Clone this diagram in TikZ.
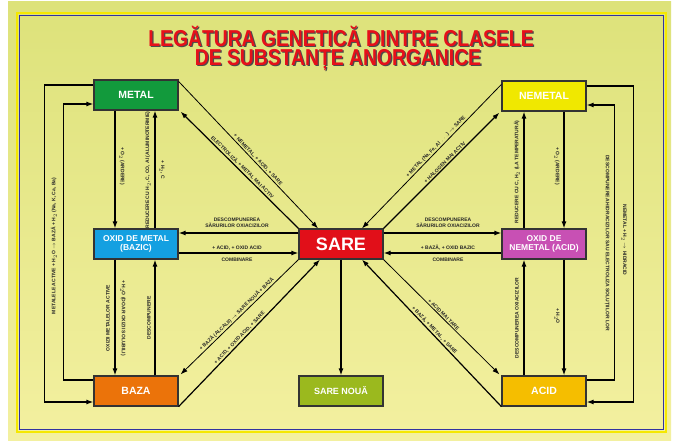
\documentclass[tikz,border=0pt]{standalone}
\usepackage{fontspec}
\setmainfont{Liberation Sans}
\usetikzlibrary{arrows.meta}
\definecolor{bgtop}{RGB}{221,226,122}
\definecolor{bgbot}{RGB}{243,240,160}
\definecolor{framey}{RGB}{245,232,0}
\definecolor{frameb}{RGB}{50,50,160}
\definecolor{cmetal}{RGB}{18,154,60}
\definecolor{cnemetal}{RGB}{240,232,0}
\definecolor{coxm}{RGB}{20,160,225}
\definecolor{csare}{RGB}{225,15,25}
\definecolor{coxn}{RGB}{200,80,180}
\definecolor{cbaza}{RGB}{235,115,10}
\definecolor{csaren}{RGB}{155,185,30}
\definecolor{cacid}{RGB}{245,190,0}
\definecolor{ctitle}{RGB}{230,16,26}
\tikzset{
  box/.style={draw=black!80, line width=1.2pt, minimum width=84pt, minimum height=30pt,
    inner sep=1pt, align=center, text=white, font=\fontsize{10.5}{11}\selectfont\bfseries},
  arr/.style={line width=1.2pt, -{Latex[length=7pt,width=5pt]}},
  tarr/.style={line width=0.8pt, -{Latex[length=7pt,width=5pt]}},
  lbl/.style={font=\fontsize{5}{5.6}\selectfont\bfseries, text=black!85, inner sep=1pt, align=center},
}
\begin{document}
\begin{tikzpicture}[x=1pt,y=-1pt]
\useasboundingbox (0,0) rectangle (678,444);
\fill[white] (0,0) rectangle (678,444);
\shade[top color=bgtop, bottom color=bgbot] (8,2) rectangle (671,440);
\draw[framey, line width=2.5pt] (17,13) rectangle (666,432);
\draw[frameb, line width=1pt] (19.5,15.5) rectangle (663.5,429.5);

% title
\foreach \dx/\col in {1.3/black!70, 0/ctitle}{
  \node[text=\col, font=\fontsize{23}{25}\selectfont\bfseries] at (341+\dx,36+\dx)
    {\scalebox{0.84}[1]{LEGĂTURA GENETICĂ DINTRE CLASELE}};
  \node[text=\col, font=\fontsize{23}{25}\selectfont\bfseries] at (338+\dx,60+\dx)
    {\scalebox{0.84}[1]{DE SUBSTANȚE ANORGANICE}};
}

% boxes
\node[box, fill=cmetal] (metal) at (136,95) {METAL};
\node[box, fill=cnemetal] (nemetal) at (544,96) {NEMETAL};
\node[box, fill=coxm, font=\fontsize{8.5}{9}\selectfont\bfseries] (oxm) at (136,244) {OXID DE METAL\\(BAZIC)};
\node[box, fill=csare, font=\fontsize{18}{18}\selectfont\bfseries] (sare) at (341,244) {SARE};
\node[box, fill=coxn, font=\fontsize{8.5}{9}\selectfont\bfseries] (oxn) at (544,244) {OXID DE\\NEMETAL (ACID)};
\node[box, fill=cbaza] (baza) at (136,391) {BAZA};
\node[box, fill=csaren, font=\fontsize{9}{10}\selectfont\bfseries] (saren) at (341,391) {SARE NOUĂ};
\node[box, fill=cacid] (acid) at (544,391) {ACID};

% left loops
\draw[arr] ([yshift=10pt]metal.west) -- ++(-49,0) |- ([yshift=-11pt]baza.west);
\draw[arr] ([yshift=11pt]baza.west) -- ++(-30,0) |- ([yshift=-9pt]metal.west);
\node[lbl, rotate=90] at (54,246) {METALELE ACTIVE + H$_2$O $\rightarrow$ BAZĂ + H$_2$\,\,(Na, K, Ca, Ba)};

% right loops
\draw[arr] ([yshift=10pt]nemetal.east) -- ++(47,0) |- ([yshift=-11pt]acid.east);
\draw[arr] ([yshift=11pt]acid.east) -- ++(28,0) |- ([yshift=-9pt]nemetal.east);
\node[lbl, rotate=-90] at (607,243) {DESCOMPUNEREA HIDRACIZILOR SAU ELECTROLIZA SOLUȚIILOR LOR};
\node[lbl, rotate=-90] at (624,240) {NEMETAL + H$_2$ $\rightarrow$ HIDRACID};

% left verticals
\draw[arr] ([xshift=-21pt]metal.south) -- ([xshift=-21pt]oxm.north);
\node[lbl, rotate=-90] at (122,166) {+ O$_2$ (ARDERE)};
\draw[arr] ([xshift=19pt]oxm.north) -- ([xshift=19pt]metal.south);
\node[lbl, rotate=90] at (148,170) {REDUCERE CU H$_2$, C, CO, Al (ALUMINOTERMIE)};
\node[lbl, rotate=-90] at (162,170) {+ H$_2$, C};
\draw[arr] ([xshift=-21pt]oxm.south) -- ([xshift=-21pt]baza.north);
\node[lbl, rotate=90] at (108,318) {OXIZII METALELOR ACTIVE};
\node[lbl, rotate=-90] at (123,318) {+ H$_2$O (DOAR OXIZII SOLUBILI)};
\draw[arr] ([xshift=19pt]baza.north) -- ([xshift=19pt]oxm.south);
\node[lbl, rotate=90] at (149,318) {DESCOMPUNERE};

% right verticals
\draw[arr] ([xshift=20pt]nemetal.south) -- ([xshift=20pt]oxn.north);
\node[lbl, rotate=-90] at (557,166) {+ O$_2$ (ARDERE)};
\draw[arr] ([xshift=-20pt]oxn.north) -- ([xshift=-20pt]nemetal.south);
\node[lbl, rotate=90] at (517,172) {REDUCERE CU C, H$_2$ (LA TEMPERATURĂ)};
\draw[arr] ([xshift=20pt]oxn.south) -- ([xshift=20pt]acid.north);
\node[lbl, rotate=-90] at (557,316) {+ H$_2$O};
\draw[arr] ([xshift=-20pt]acid.north) -- ([xshift=-20pt]oxn.south);
\node[lbl, rotate=90] at (517,318) {DESCOMPUNEREA OXIACIZILOR};

% horizontals
\draw[arr] ([yshift=11pt]sare.west) -- ([yshift=11pt]oxm.east);
\node[lbl] at (237,223) {DESCOMPUNEREA\\SĂRURILOR OXIACIZILOR};
\draw[arr] ([yshift=-9pt]oxm.east) -- ([yshift=-9pt]sare.west);
\node[lbl] at (237,248) {+ ACID, + OXID ACID};
\node[lbl] at (237,260) {COMBINARE};
\draw[arr] ([yshift=11pt]sare.east) -- ([yshift=11pt]oxn.west);
\node[lbl] at (448,223) {DESCOMPUNEREA\\SĂRURILOR OXIACIZILOR};
\draw[arr] ([yshift=-9pt]oxn.west) -- ([yshift=-9pt]sare.east);
\node[lbl] at (448,248) {+ BAZĂ, + OXID BAZIC};
\node[lbl] at (448,260) {COMBINARE};

% diagonals top-left
\draw[tarr] ([yshift=-2pt]metal.north east) -- node[lbl, sloped, above, pos=0.55] {+ NEMETAL, + ACID, + SARE} ([xshift=-23pt]sare.north);
\draw[arr] (sare.north west) -- node[lbl, sloped, above, pos=0.5] {ELECTROLIZĂ, + METAL MAI ACTIV} ([xshift=2pt,yshift=-1pt]metal.south east);
% diagonals top-right
\draw[tarr] ([yshift=-4pt]nemetal.north west) -- node[lbl, sloped, above, pos=0.45] {+ METAL (Na, Fe, Al $\dots$) $\rightarrow$ SARE} ([xshift=21pt]sare.north);
\draw[arr] (sare.north east) -- node[lbl, sloped, above, pos=0.55] {+ HALOGEN MAI ACTIV} ([xshift=-2pt,yshift=-1pt]nemetal.south west);
% diagonals bottom-left
\draw[tarr] (sare.south west) -- node[lbl, sloped, above, pos=0.5] {+ BAZĂ (ALCALII) $\rightarrow$ SARE NOUĂ + BAZĂ} ([xshift=2pt,yshift=1pt]baza.north east);
\draw[arr] (baza.south east) -- node[lbl, sloped, above, pos=0.45] {+ ACID, + OXID ACID, + SARE} ([xshift=-21pt]sare.south);
% diagonals bottom-right
\draw[tarr] (sare.south east) -- node[lbl, sloped, above, pos=0.5] {+ ACID MAI TARE} ([xshift=-2pt,yshift=1pt]acid.north west);
\draw[arr] (acid.south west) -- node[lbl, sloped, above, pos=0.5] {+ BAZĂ, + METAL, + SARE} ([xshift=21pt]sare.south);

% sare -> sare noua
\draw[arr] (sare.south) -- (saren.north);
\end{tikzpicture}
\end{document}
